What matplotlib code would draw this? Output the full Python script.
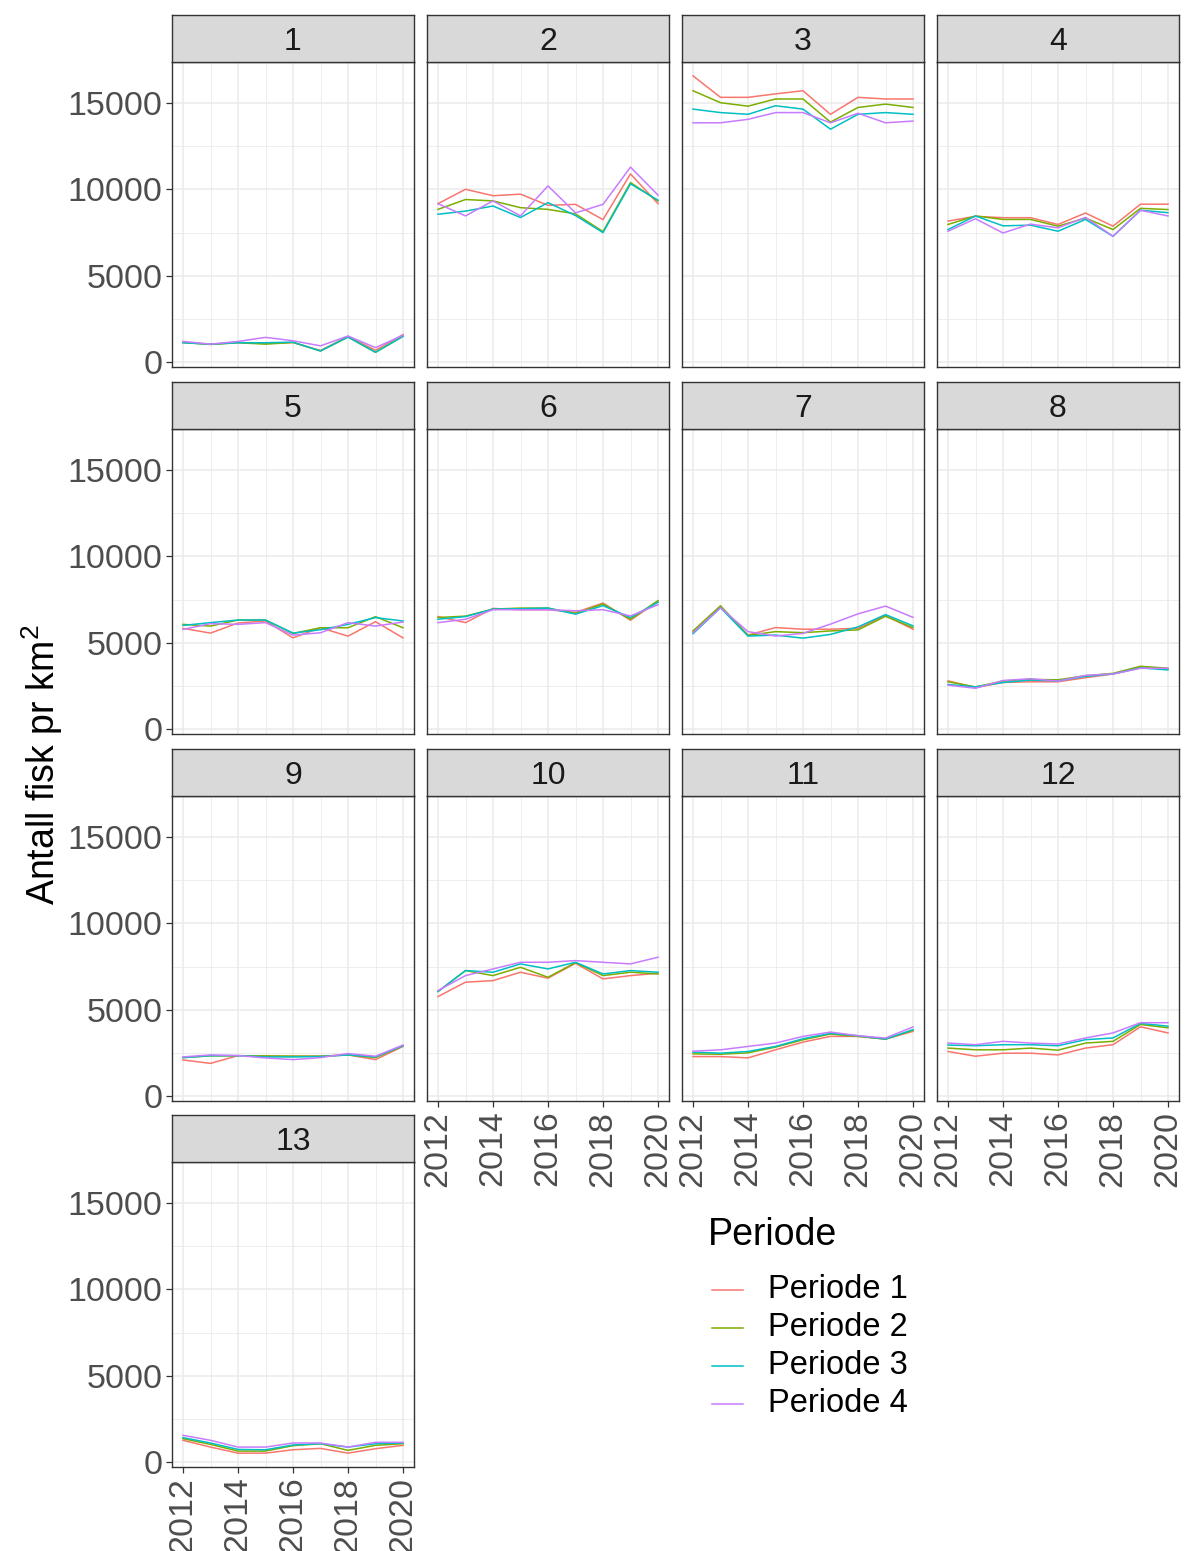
import numpy as np
import matplotlib
matplotlib.use("Agg")
import matplotlib.pyplot as plt
from matplotlib.lines import Line2D

plt.rcParams['font.family'] = ['Liberation Sans', 'DejaVu Sans']
plt.rcParams['mathtext.fontset'] = 'custom'
plt.rcParams['mathtext.rm'] = 'Liberation Sans'
plt.rcParams['mathtext.it'] = 'Liberation Sans'

years = [2012, 2013, 2014, 2015, 2016, 2017, 2018, 2019, 2020]
periods = ["Periode 1", "Periode 2", "Periode 3", "Periode 4"]
colors = ["#F8766D", "#7CAE00", "#00BFC4", "#C77CFF"]

# fish density per km^2, one list per period for each area
area1 = [[1160, 1060, 1160, 1100, 1155, 690, 1510, 705, 1610],
         [1155, 1040, 1140, 1060, 1155, 665, 1470, 590, 1510],
         [1140, 1060, 1140, 1140, 1175, 665, 1470, 590, 1510],
         [1215, 1060, 1215, 1450, 1255, 960, 1530, 860, 1570]]
area2 = [[9170, 10000, 9630, 9720, 9075, 9130, 8250, 10890, 9170],
         [8840, 9410, 9330, 8940, 8840, 8580, 7560, 10390, 9330],
         [8560, 8740, 9035, 8370, 9230, 8485, 7500, 10315, 9370],
         [9170, 8465, 9330, 8465, 10200, 8640, 9130, 11280, 9665]]
area3 = [[16550, 15310, 15310, 15510, 15690, 14330, 15310, 15215, 15215],
         [15690, 15000, 14800, 15215, 15215, 13880, 14725, 14920, 14725],
         [14630, 14430, 14330, 14825, 14630, 13470, 14330, 14430, 14330],
         [13840, 13840, 14040, 14430, 14430, 13840, 14390, 13840, 13940]]
area4 = [[8165, 8440, 8360, 8360, 7970, 8630, 7870, 9140, 9140],
         [7970, 8460, 8260, 8260, 7870, 8340, 7675, 8900, 8830],
         [7675, 8460, 7890, 7930, 7580, 8260, 7285, 8790, 8650],
         [7580, 8300, 7480, 7990, 7775, 8380, 7285, 8790, 8460]]
area5 = [[5840, 5565, 6150, 6265, 5290, 5875, 5390, 6225, 5290],
         [6070, 5970, 6320, 6320, 5545, 5875, 5875, 6515, 5875],
         [6010, 6170, 6320, 6320, 5565, 5760, 6070, 6460, 6265],
         [5780, 6110, 6070, 6170, 5450, 5585, 6170, 5970, 6205]]
area6 = [[6520, 6170, 6990, 6915, 6915, 6760, 7300, 6310, 7400],
         [6465, 6545, 6950, 7010, 7010, 6700, 7245, 6365, 7440],
         [6365, 6520, 6950, 6970, 7010, 6660, 7150, 6465, 7345],
         [6170, 6365, 6915, 6915, 6915, 6855, 6915, 6560, 7205]]
area7 = [[5650, 7065, 5450, 5885, 5790, 5790, 5845, 6575, 5790],
         [5690, 7145, 5435, 5650, 5590, 5690, 5750, 6535, 5885],
         [5530, 7030, 5395, 5450, 5275, 5490, 5925, 6635, 5985],
         [5590, 7030, 5650, 5395, 5550, 6085, 6675, 7125, 6475]]
area8 = [[2810, 2420, 2715, 2755, 2755, 2990, 3205, 3595, 3495],
         [2755, 2460, 2795, 2890, 2870, 3105, 3240, 3650, 3535],
         [2600, 2460, 2715, 2850, 2810, 3065, 3205, 3555, 3440],
         [2560, 2380, 2830, 2930, 2795, 3125, 3205, 3535, 3535]]
area9 = [[2110, 1910, 2360, 2325, 2325, 2325, 2400, 2130, 2890],
         [2245, 2345, 2345, 2345, 2325, 2325, 2400, 2245, 2930],
         [2245, 2360, 2360, 2285, 2285, 2305, 2400, 2285, 2930],
         [2285, 2400, 2360, 2225, 2130, 2245, 2480, 2325, 2970]]
area10 = [[5770, 6600, 6690, 7175, 6830, 7690, 6790, 6980, 7115],
          [6060, 7270, 6980, 7460, 6885, 7730, 6980, 7175, 7075],
          [6060, 7270, 7175, 7655, 7365, 7750, 7075, 7270, 7175],
          [6115, 6980, 7365, 7750, 7750, 7845, 7750, 7655, 8040]]
area11 = [[2305, 2305, 2230, 2695, 3140, 3470, 3470, 3315, 3760],
          [2460, 2440, 2520, 2850, 3275, 3605, 3470, 3315, 3820],
          [2560, 2500, 2600, 2890, 3335, 3645, 3510, 3315, 3860],
          [2615, 2695, 2890, 3085, 3470, 3720, 3510, 3375, 4015]]
area12 = [[2600, 2325, 2500, 2500, 2400, 2795, 2990, 4025, 3670],
          [2795, 2695, 2695, 2795, 2675, 3085, 3185, 4160, 3965],
          [2970, 2930, 2990, 2990, 2930, 3280, 3380, 4220, 4060],
          [3085, 2990, 3185, 3085, 3030, 3380, 3670, 4260, 4260]]
area13 = [[1280, 890, 540, 540, 735, 815, 540, 795, 990],
          [1375, 1045, 660, 660, 970, 1085, 700, 990, 1085],
          [1435, 1125, 755, 735, 1010, 1085, 890, 1085, 1125],
          [1570, 1280, 890, 890, 1125, 1125, 890, 1165, 1165]]

areas = [area1, area2, area3, area4, area5, area6, area7,
         area8, area9, area10, area11, area12, area13]
area_labels = [str(i) for i in range(1, 14)]

y_ticks = [0, 5000, 10000, 15000]
x_ticks = [2012, 2014, 2016, 2018, 2020]

W, H = 1189, 1551
fig = plt.figure(figsize=(W / 100, H / 100), dpi=100)
fig.patch.set_facecolor("white")

# shared y scale with 5 % expansion, as in a ggplot facet
allv = np.array(areas, dtype=float)
vmin, vmax = allv.min(), allv.max()
pad = 0.05 * (vmax - vmin)
ylim = (vmin - pad, vmax + pad)
xlim = (2012 - 0.4, 2020 + 0.4)


def px_axes(x0, y0, w, h):
    return fig.add_axes([x0 / W, 1 - (y0 + h) / H, w / W, h / H])


col_x = [172, 427, 682, 937]
row_top = [62, 429, 796, 1162]
pw, ph, sh = 242, 305, 47
border = "#333333"
grid_col = "#EBEBEB"
tick_col = "#4D4D4D"
fs_tick = 24.5
n = len(areas)

for i, data in enumerate(areas):
    r, c = divmod(i, 4)
    x0, y0 = col_x[c], row_top[r]
    ax = px_axes(x0, y0, pw, ph)
    ax.set_xlim(*xlim)
    ax.set_ylim(*ylim)
    ax.set_xticks(x_ticks)
    ax.set_xticks([2013, 2015, 2017, 2019], minor=True)
    ax.set_yticks(y_ticks)
    ax.set_yticks([2500, 7500, 12500], minor=True)
    ax.grid(True, which="major", color=grid_col, linewidth=1.1)
    ax.grid(True, which="minor", color=grid_col, linewidth=0.6)
    ax.set_axisbelow(True)
    for s in ax.spines.values():
        s.set_color(border)
        s.set_linewidth(1.0)
    ax.tick_params(which="major", length=4, width=0.9, color=border,
                   labelsize=fs_tick, labelcolor=tick_col, pad=3)
    ax.tick_params(which="minor", length=0)

    for k in range(4):
        ax.plot(years, data[k], color=colors[k], linewidth=1.1)

    show_y = (c == 0)
    show_x = (i + 4 >= n)
    if show_y:
        ax.set_yticklabels([str(v) for v in y_ticks])
    else:
        ax.tick_params(axis="y", which="major", left=False, labelleft=False)
    if show_x:
        ax.set_xticklabels([str(v) for v in x_ticks], rotation=90)
    else:
        ax.tick_params(axis="x", which="major", bottom=False,
                       labelbottom=False)

    # facet strip
    sax = px_axes(x0, y0 - sh, pw, sh)
    sax.set_facecolor("#D9D9D9")
    sax.set_xticks([])
    sax.set_yticks([])
    for s in sax.spines.values():
        s.set_color(border)
        s.set_linewidth(1.0)
    sax.text(0.5, 0.42, area_labels[i], ha="center", va="center",
             fontsize=23, color="#1A1A1A", transform=sax.transAxes)

# y-axis title
fig.text(42 / W, 1 - 765 / H, r"Antall fisk pr km$^{2}$", rotation=90,
         ha="center", va="center", fontsize=27, color="black")

# legend
fig.text(708 / W, 1 - 1235 / H, "Periode", ha="left", va="center",
         fontsize=27, color="black")
for k, name in enumerate(periods):
    yy = 1 - (1290 + 38 * k) / H
    fig.add_artist(Line2D([712 / W, 743 / W], [yy, yy], color=colors[k],
                          linewidth=1.1, transform=fig.transFigure))
    fig.text(768 / W, yy, name, ha="left", va="center", fontsize=23.5,
             color="black")

fig.savefig("out.png", dpi=100, facecolor="white")
